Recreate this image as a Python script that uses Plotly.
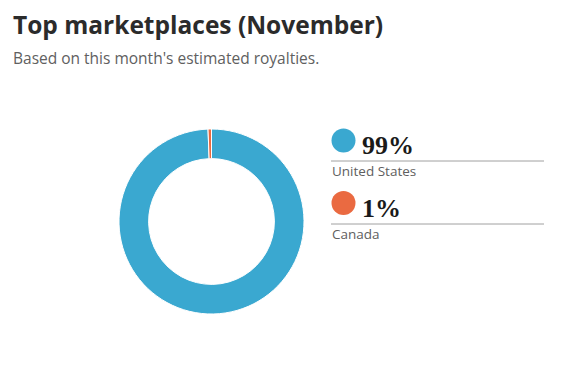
import plotly.graph_objects as go

W, H = 567, 372

countries = ["United States", "Canada"]
shares = [99.4, 0.6]
share_labels = ["99%", "1%"]
colors = ["#3aa8d0", "#ea6a41"]

title_text = "Top marketplaces (November)"
subtitle_text = "Based on this month's estimated royalties."

def px(x):
    return x / W

def py(y):
    return 1 - y / H

fig = go.Figure()
fig.add_trace(go.Pie(
    labels=countries, values=shares, hole=0.68, sort=False,
    direction="clockwise", rotation=0,
    marker=dict(colors=colors, line=dict(color="white", width=1)),
    textinfo="none", hoverinfo="label+percent", showlegend=False,
    domain=dict(x=[px(119), px(304)], y=[py(314), py(129)]),
))

annotations = [
    dict(text="<b>" + title_text + "</b>", x=px(11), y=py(25), xanchor="left", yanchor="middle",
         font=dict(family="Open Sans", size=24.5, color="#2b2b2b")),
    dict(text=subtitle_text, x=px(11), y=py(58), xanchor="left", yanchor="middle",
         font=dict(family="Open Sans", size=15.5, color="#606060")),
]
shapes = []
rows = [(140.5, 161, 171), (203, 224, 234)]
for i, (cy, ly, ty) in enumerate(rows):
    shapes.append(dict(type="circle", xref="paper", yref="paper",
                       x0=px(331.5), x1=px(355.5), y0=py(cy + 12), y1=py(cy - 12),
                       fillcolor=colors[i], line=dict(width=0)))
    shapes.append(dict(type="line", xref="paper", yref="paper",
                       x0=px(331), x1=px(544), y0=py(ly), y1=py(ly),
                       line=dict(color="#a0a0a0", width=1)))
    annotations.append(dict(text="<b>" + share_labels[i] + "</b>", x=px(360), y=py(ly + 1),
                            xanchor="left", yanchor="bottom",
                            font=dict(family="Liberation Serif", size=26, color="#1a1a1a")))
    annotations.append(dict(text=countries[i], x=px(330), y=py(ty), xanchor="left", yanchor="middle",
                            font=dict(family="Open Sans", size=13.5, color="#606060")))

for a in annotations:
    a.update(xref="paper", yref="paper", showarrow=False)

fig.update_layout(
    width=W, height=H, margin=dict(l=0, r=0, t=0, b=0),
    paper_bgcolor="white", plot_bgcolor="white",
    annotations=annotations, shapes=shapes,
)
fig.write_html("out.html")
